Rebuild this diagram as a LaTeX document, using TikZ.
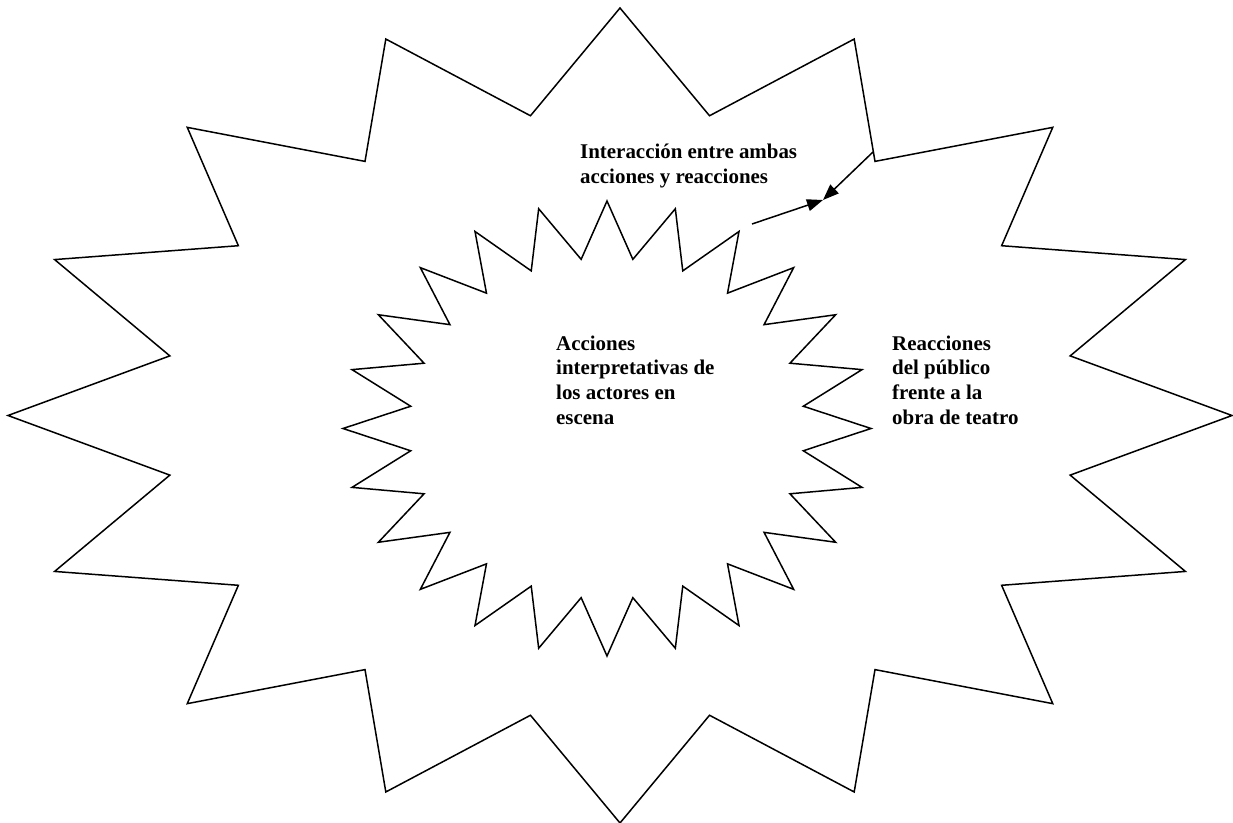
\documentclass[tikz,border=0pt]{standalone}
\usepackage{fontspec}
\setmainfont{Liberation Serif}
\usetikzlibrary{arrows.meta}

\begin{document}
\begin{tikzpicture}[x=1bp,y=-1bp,>={Triangle[length=16bp,width=12bp]},
  burst/.style={line width=1.5bp,line join=miter},
  txt/.style={font=\fontsize{21}{24.7}\selectfont\bfseries,align=left,inner sep=0pt,anchor=base west}]
\useasboundingbox (0,0) rectangle (1233,823);
% outer burst, 16 points
\draw[burst] plot[samples at={0,...,31},variable=\k]
  ({620+612*(1-0.25*mod(\k,2))*cos(90+11.25*\k)},{415.5-407.5*(1-0.25*mod(\k,2))*sin(90+11.25*\k)}) -- cycle;
% inner burst, 24 points
\draw[burst] plot[samples at={0,...,47},variable=\k]
  ({607+264*(1-0.25*mod(\k,2))*cos(90+7.5*\k)},{428.5-227.5*(1-0.25*mod(\k,2))*sin(90+7.5*\k)}) -- cycle;
\node[txt](inter)at(580, 183.5){Interacción entre ambas\\acciones y reacciones};
\node[txt](acc)at(556, 424){Acciones\\interpretativas de\\los actores en\\escena};
\node[txt](reac)at(892, 424){Reacciones\\del público\\frente a la\\obra de teatro};
\coordinate (meet) at (823, 200);
\coordinate (from) at (752, 224);
\coordinate (rim) at (873, 152);
\path[->,line width=1.5bp] (from) edge (meet)
  (rim) edge (meet);
\end{tikzpicture}
\end{document}
